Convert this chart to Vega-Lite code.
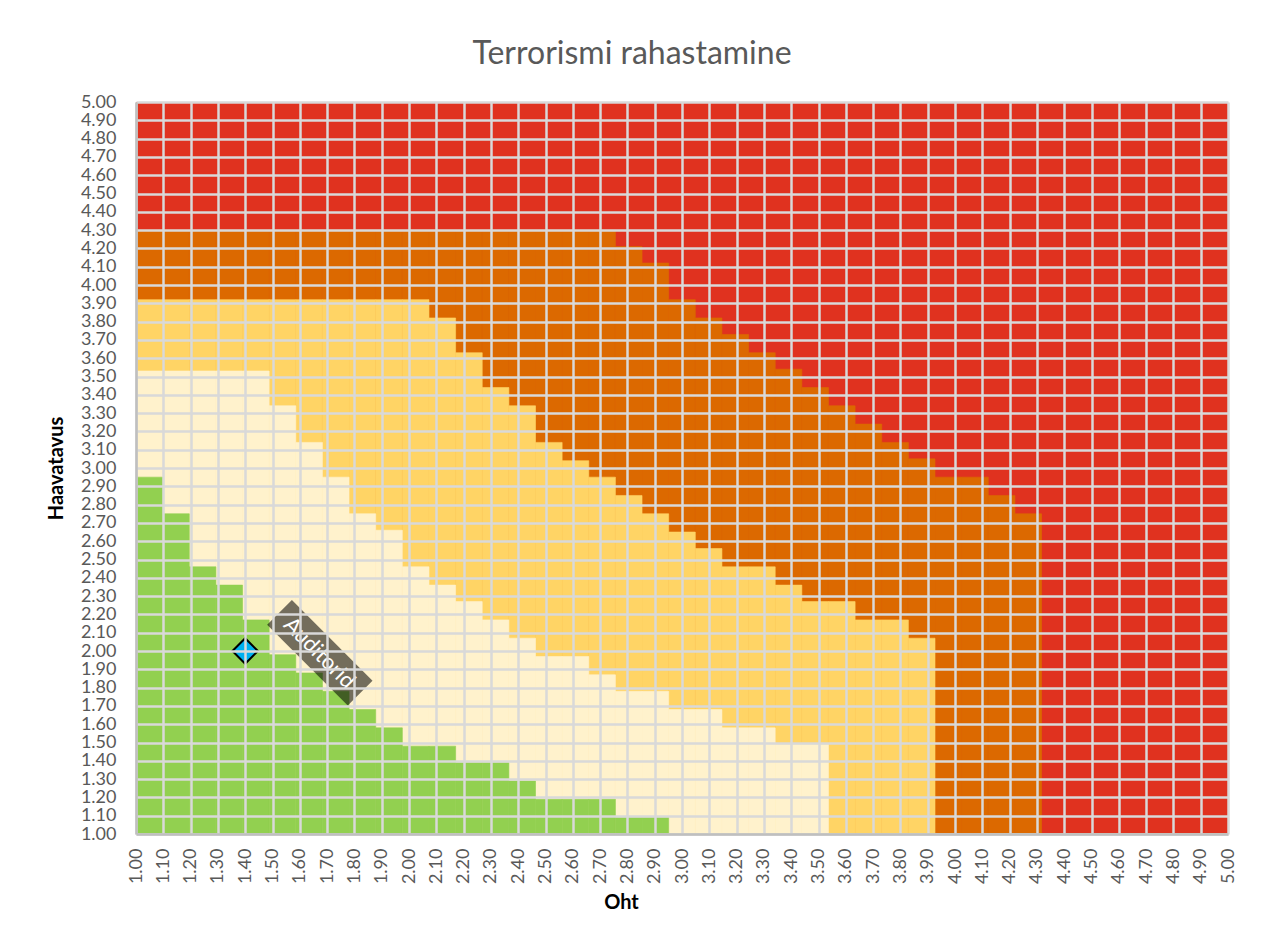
{
  "$schema": "https://vega.github.io/schema/vega-lite/v6.json",
  "width": 1092,
  "height": 732,
  "autosize": {"type": "none"},
  "padding": {"left": 136, "top": 102, "right": 38, "bottom": 107},
  "background": "white",
  "title": {"text": "Terrorismi rahastamine", "font": "Lato", "fontSize": 32, "fontWeight": "normal", "color": "#595959", "anchor": "middle", "offset": 22, "dx": -50},
  "datasets": {
    "cols": [
      {"x": 1.0, "g": 2.95, "c": 3.53, "yl": 3.92, "o": 4.30},
      {"x": 1.1, "g": 2.75, "c": 3.53, "yl": 3.92, "o": 4.30},
      {"x": 1.2, "g": 2.46, "c": 3.53, "yl": 3.92, "o": 4.30},
      {"x": 1.3, "g": 2.36, "c": 3.53, "yl": 3.92, "o": 4.30},
      {"x": 1.4, "g": 2.17, "c": 3.53, "yl": 3.92, "o": 4.30},
      {"x": 1.5, "g": 1.98, "c": 3.34, "yl": 3.92, "o": 4.30},
      {"x": 1.6, "g": 1.88, "c": 3.14, "yl": 3.92, "o": 4.30},
      {"x": 1.7, "g": 1.78, "c": 2.95, "yl": 3.92, "o": 4.30},
      {"x": 1.8, "g": 1.68, "c": 2.75, "yl": 3.92, "o": 4.30},
      {"x": 1.9, "g": 1.58, "c": 2.66, "yl": 3.92, "o": 4.30},
      {"x": 2.0, "g": 1.48, "c": 2.46, "yl": 3.92, "o": 4.30},
      {"x": 2.1, "g": 1.48, "c": 2.36, "yl": 3.82, "o": 4.30},
      {"x": 2.2, "g": 1.39, "c": 2.27, "yl": 3.63, "o": 4.30},
      {"x": 2.3, "g": 1.39, "c": 2.17, "yl": 3.44, "o": 4.30},
      {"x": 2.4, "g": 1.29, "c": 2.07, "yl": 3.34, "o": 4.30},
      {"x": 2.5, "g": 1.19, "c": 1.97, "yl": 3.14, "o": 4.30},
      {"x": 2.6, "g": 1.19, "c": 1.97, "yl": 3.04, "o": 4.30},
      {"x": 2.7, "g": 1.19, "c": 1.87, "yl": 2.95, "o": 4.30},
      {"x": 2.8, "g": 1.09, "c": 1.78, "yl": 2.85, "o": 4.21},
      {"x": 2.9, "g": 1.09, "c": 1.78, "yl": 2.75, "o": 4.12},
      {"x": 3.0, "g": 1.0, "c": 1.68, "yl": 2.65, "o": 3.92},
      {"x": 3.1, "g": 1.0, "c": 1.68, "yl": 2.56, "o": 3.82},
      {"x": 3.2, "g": 1.0, "c": 1.58, "yl": 2.46, "o": 3.73},
      {"x": 3.3, "g": 1.0, "c": 1.58, "yl": 2.46, "o": 3.63},
      {"x": 3.4, "g": 1.0, "c": 1.49, "yl": 2.36, "o": 3.54},
      {"x": 3.5, "g": 1.0, "c": 1.49, "yl": 2.27, "o": 3.44},
      {"x": 3.6, "g": 1.0, "c": 1.0, "yl": 2.27, "o": 3.34},
      {"x": 3.7, "g": 1.0, "c": 1.0, "yl": 2.17, "o": 3.24},
      {"x": 3.8, "g": 1.0, "c": 1.0, "yl": 2.17, "o": 3.14},
      {"x": 3.9, "g": 1.0, "c": 1.0, "yl": 2.07, "o": 3.05},
      {"x": 4.0, "g": 1.0, "c": 1.0, "yl": 1.0, "o": 2.95},
      {"x": 4.1, "g": 1.0, "c": 1.0, "yl": 1.0, "o": 2.95},
      {"x": 4.2, "g": 1.0, "c": 1.0, "yl": 1.0, "o": 2.85},
      {"x": 4.3, "g": 1.0, "c": 1.0, "yl": 1.0, "o": 2.75},
      {"x": 4.4, "g": 1.0, "c": 1.0, "yl": 1.0, "o": 1.0},
      {"x": 4.5, "g": 1.0, "c": 1.0, "yl": 1.0, "o": 1.0},
      {"x": 4.6, "g": 1.0, "c": 1.0, "yl": 1.0, "o": 1.0},
      {"x": 4.7, "g": 1.0, "c": 1.0, "yl": 1.0, "o": 1.0},
      {"x": 4.8, "g": 1.0, "c": 1.0, "yl": 1.0, "o": 1.0},
      {"x": 4.9, "g": 1.0, "c": 1.0, "yl": 1.0, "o": 1.0},
      {"x": 5.0, "g": 1.0, "c": 1.0, "yl": 1.0, "o": 1.0}
    ],
    "pt": [{"oht": 1.4, "haav": 2.0, "label": "Auditorid"}]
  },
  "layer": [
    {
      "data": {"name": "cols"},
      "encoding": {
        "x": {"field": "x", "type": "ordinal", "scale": {"paddingInner": 0, "paddingOuter": 0}, "axis": null}
      },
      "layer": [
        {
          "mark": {"type": "bar", "fill": "#dc6900", "stroke": "#dc6900", "strokeWidth": 0.6, "clip": true},
          "encoding": {
            "y": {"field": "o", "type": "quantitative", "scale": {"domain": [1, 5], "nice": false, "zero": false},
              "axis": {"title": "Haavatavus", "zindex": 1, "tickCount": 41, "grid": true, "values": [1, 1.1, 1.2, 1.3, 1.4, 1.5, 1.6, 1.7, 1.8, 1.9, 2, 2.1, 2.2, 2.3, 2.4, 2.5, 2.6, 2.7, 2.8, 2.9, 3, 3.1, 3.2, 3.3, 3.4, 3.5, 3.6, 3.7, 3.8, 3.9, 4, 4.1, 4.2, 4.3, 4.4, 4.5, 4.6, 4.7, 4.8, 4.9, 5]}}
          }
        },
        {
          "mark": {"type": "bar", "fill": "#ffd465", "stroke": "#ffd465", "strokeWidth": 0.6, "clip": true},
          "encoding": {
            "y": {"field": "yl", "type": "quantitative", "axis": {"title": "Haavatavus", "zindex": 1, "tickCount": 41, "grid": true}}
          }
        },
        {
          "mark": {"type": "bar", "fill": "#fff2cc", "stroke": "#fff2cc", "strokeWidth": 0.6, "clip": true},
          "encoding": {
            "y": {"field": "c", "type": "quantitative", "axis": {"title": "Haavatavus", "zindex": 1, "tickCount": 41, "grid": true}}
          }
        },
        {
          "mark": {"type": "bar", "fill": "#92d050", "stroke": "#92d050", "strokeWidth": 0.6, "clip": true},
          "encoding": {
            "y": {"field": "g", "type": "quantitative", "axis": {"title": "Haavatavus", "zindex": 1, "tickCount": 41, "grid": true}}
          }
        }
      ]
    },
    {
      "data": {"name": "pt"},
      "encoding": {
        "x": {"field": "oht", "type": "quantitative", "scale": {"domain": [1, 5], "nice": false, "zero": false},
          "axis": {"orient": "bottom", "title": "Oht", "titleX": 485, "titlePadding": 9, "zindex": 1, "tickCount": 41, "grid": true,
            "values": [1, 1.1, 1.2, 1.3, 1.4, 1.5, 1.6, 1.7, 1.8, 1.9, 2, 2.1, 2.2, 2.3, 2.4, 2.5, 2.6, 2.7, 2.8, 2.9, 3, 3.1, 3.2, 3.3, 3.4, 3.5, 3.6, 3.7, 3.8, 3.9, 4, 4.1, 4.2, 4.3, 4.4, 4.5, 4.6, 4.7, 4.8, 4.9, 5]}},
        "y": {"field": "haav", "type": "quantitative", "axis": {"title": "Haavatavus", "zindex": 1, "tickCount": 41, "grid": true}}
      },
      "layer": [
        {
          "mark": {"type": "point", "shape": "M-3,-69L111,-69L111,-34L-3,-34Z", "angle": 45, "size": 4, "filled": true, "fill": "#000000", "fillOpacity": 0.55, "opacity": 1, "strokeWidth": 0}
        },
        {
          "mark": {"type": "text", "angle": 45, "dx": 54, "dy": -51, "align": "center", "baseline": "middle", "font": "Lato", "fontSize": 22, "color": "#ffffff"},
          "encoding": {"text": {"field": "label"}}
        },
        {
          "mark": {"type": "point", "shape": "diamond", "size": 650, "filled": true, "fill": "#00b0f0", "stroke": "#000000", "strokeWidth": 2, "opacity": 1}
        }
      ]
    }
  ],
  "resolve": {"scale": {"x": "independent"}, "axis": {"x": "independent"}},
  "config": {
    "font": "Lato",
    "view": {"stroke": null, "fill": "#e0321f"},
    "axis": {
      "labelFont": "Lato", "labelFontSize": 18, "labelColor": "#595959",
      "titleFont": "Lato", "titleFontSize": 20, "titleFontWeight": "bold", "titleColor": "#000000",
      "grid": true, "gridColor": "#d9d9d9", "gridWidth": 2.5, "gridOpacity": 1,
      "domainColor": "#bfbfbf", "domainWidth": 2.5, "ticks": false, "zindex": 1,
      "format": ".2f", "labelOverlap": false, "labelFlush": false
    },
    "axisX": {"labelAngle": -90, "labelPadding": 14},
    "axisY": {"labelPadding": 20, "titlePadding": 14}
  }
}
